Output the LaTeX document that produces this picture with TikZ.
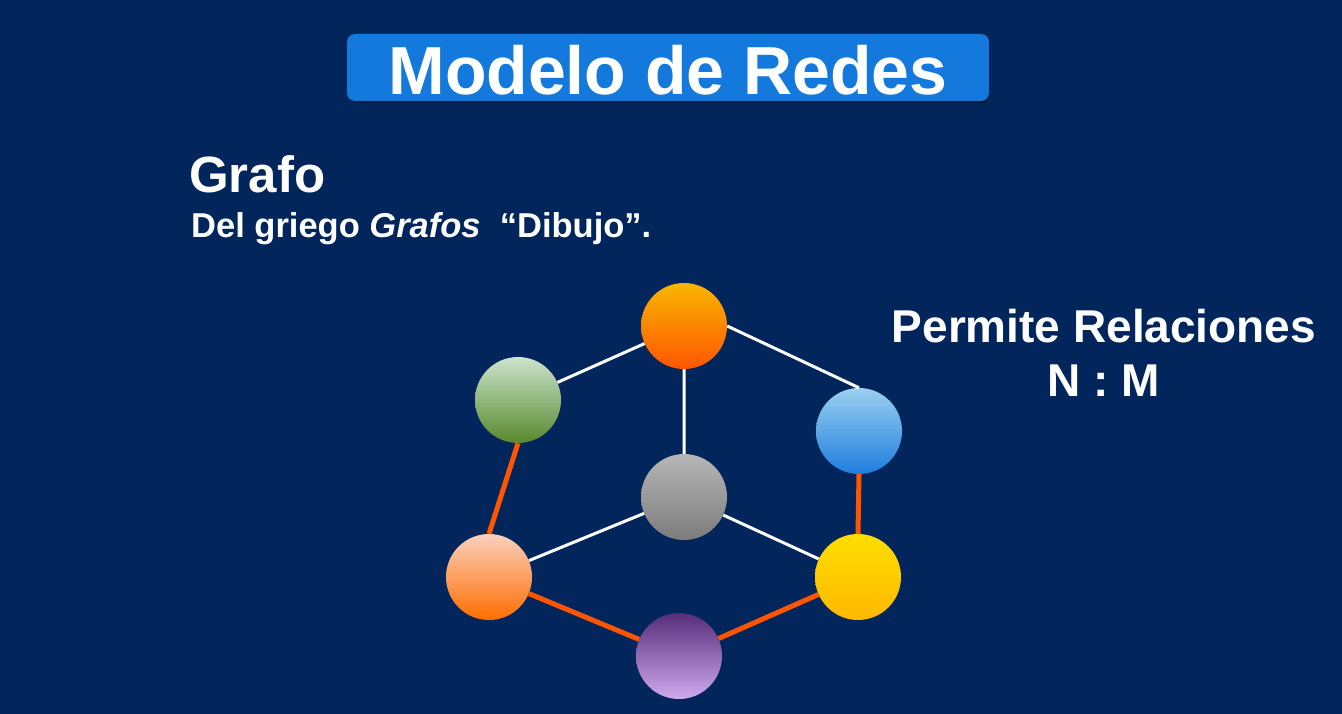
\documentclass[tikz,border=0pt]{standalone}
\usepackage{fontspec}
\setmainfont{Liberation Sans}
\usetikzlibrary{arrows}

\definecolor{navy}{RGB}{2,38,92}
\definecolor{titleblue}{RGB}{20,121,220}
\definecolor{linkorange}{RGB}{255,85,0}

\begin{document}
\begin{tikzpicture}[x=1pt,y=-1pt,
                    ball/.style={circle,minimum size=86pt,inner sep=0pt},
                    thin link/.style={draw=white,line width=3pt},
                    thick link/.style={draw=linkorange,line width=5pt}]
  \tikzstyle{every node}=[text=white,inner sep=0pt]

  \fill[navy] (0,0) rectangle (1342,714);
  \useasboundingbox (0,0) rectangle (1342,714);

  \fill[navy!70!black,rounded corners=8pt] (348,36) rectangle (990,103);
  \node[fill=titleblue,rounded corners=8pt,minimum width=642pt,minimum height=67pt] (banner) at (668,67.5) {};
  \node[anchor=base,font=\fontsize{68}{80}\selectfont\bfseries] (titulo) at (668,95) {Modelo de Redes};

  \node[anchor=base west,font=\fontsize{51}{60}\selectfont\bfseries] (grafo) at (189,193) {Grafo};
  \node[anchor=base west,font=\fontsize{34.5}{40}\selectfont\bfseries] (griego) at (191,238) {Del griego \textit{Grafos}~~“Dibujo”.};

  \node[anchor=base,font=\fontsize{46}{54}\selectfont\bfseries] (permite) at (1104,342) {Permite Relaciones};
  \node[anchor=base,font=\fontsize{46}{54}\selectfont\bfseries] (nm) at (1104,396) {N : M};

  \node[ball,top color={rgb,255:red,248;green,182;blue,0},middle color={rgb,255:red,255;green,125;blue,0},bottom color={rgb,255:red,255;green,85;blue,0}] (A) at (684,326) {};
  \node[ball,top color={rgb,255:red,205;green,228;blue,205},middle color={rgb,255:red,110;green,158;blue,75},bottom color={rgb,255:red,88;green,136;blue,45}] (B) at (518,400) {};
  \node[ball,top color={rgb,255:red,155;green,208;blue,240},middle color={rgb,255:red,100;green,172;blue,230},bottom color={rgb,255:red,30;green,125;blue,222}] (C) at (859,431) {};
  \node[ball,top color={rgb,255:red,182;green,182;blue,182},middle color={rgb,255:red,140;green,140;blue,140},bottom color={rgb,255:red,124;green,124;blue,124}] (D) at (684,497) {};
  \node[ball,top color={rgb,255:red,250;green,208;blue,190},middle color={rgb,255:red,255;green,150;blue,80},bottom color={rgb,255:red,255;green,110;blue,0}] (E) at (489,577) {};
  \node[ball,top color={rgb,255:red,255;green,222;blue,0},middle color={rgb,255:red,255;green,188;blue,0},bottom color={rgb,255:red,255;green,184;blue,0}] (F) at (858,577) {};
  \node[ball,top color={rgb,255:red,84;green,44;blue,120},middle color={rgb,255:red,138;green,98;blue,172},bottom color={rgb,255:red,208;green,170;blue,238}] (G) at (679,656) {};

  \path[thin link] (B) -- (A)
                   (A.east) -- (C.north)
                   (A) -- (D)
                   (D) -- (E)
                   (D) -- (F);
  \path[thick link] (B.south) -- (E.north)
                    (C.south) -- (F.north)
                    (E) -- (G)
                    (G) -- (F);
\end{tikzpicture}
\end{document}
